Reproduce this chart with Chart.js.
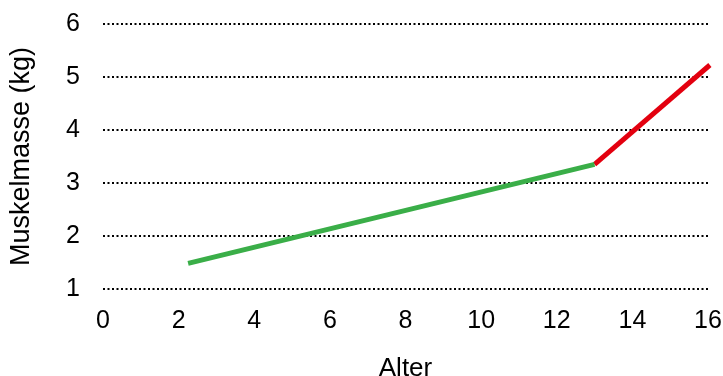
<!DOCTYPE html>
<html>
<head>
<meta charset="utf-8">
<script src="https://cdn.jsdelivr.net/npm/chart.js@4/dist/chart.umd.min.js"></script>
<style>
  html, body { margin: 0; padding: 0; background: #fff; }
  #wrap { width: 723px; height: 376px; }
</style>
</head>
<body>
<div id="wrap"><canvas id="myChart"></canvas></div>
<script>
// values
const ageGreen = [2.25, 13];
const massGreen = [1.48, 3.35];
const ageRed = [13, 16.05];
const massRed = [3.35, 5.23];
const xTicks = [0, 2, 4, 6, 8, 10, 12, 14, 16];
const yTicks = [1, 2, 3, 4, 5, 6];

function toPoints(xs, ys) {
  return xs.map((x, i) => ({ x: x, y: ys[i] }));
}

// drop the extra room chart.js keeps for the tick labels
function noPadding(axis) {
  axis.paddingTop = 0;
  axis.paddingBottom = 0;
  axis.paddingLeft = 0;
  axis.paddingRight = 0;
}

const fontFamily = '"Liberation Sans", Arial, Helvetica, sans-serif';

new Chart("myChart", {
  type: 'line',
  data: {
    datasets: [{
      data: toPoints(ageGreen, massGreen),
      borderColor: '#3aae48',
      borderWidth: 5,
      pointRadius: 0,
      clip: false
    }, {
      data: toPoints(ageRed, massRed),
      borderColor: '#e3000f',
      borderWidth: 5,
      pointRadius: 0,
      clip: false
    }]
  },
  options: {
    responsive: true,
    maintainAspectRatio: false,
    animation: false,
    layout: { padding: { left: 0, right: 15, top: 24.3, bottom: 0 } },
    plugins: {
      legend: { display: false },
      tooltip: { enabled: false }
    },
    scales: {
      x: {
        type: 'linear',
        min: xTicks[0],
        max: xTicks[xTicks.length - 1],
        afterBuildTicks: (axis) => { axis.ticks = xTicks.map(v => ({ value: v })); },
        afterFit: (axis) => { axis.height = 87.3; noPadding(axis); },
        grid: { display: false, drawTicks: false },
        border: { display: false },
        ticks: { color: '#000', padding: 17, font: { family: fontFamily, size: 25 } },
        title: {
          display: true,
          text: 'Alter',
          color: '#000',
          padding: 0,
          font: { family: fontFamily, size: 26, lineHeight: 0.55 }
        }
      },
      y: {
        min: yTicks[0],
        max: yTicks[yTicks.length - 1],
        afterBuildTicks: (axis) => { axis.ticks = yTicks.map(v => ({ value: v })); },
        afterFit: (axis) => { axis.width = 103; noPadding(axis); },
        grid: { color: '#000', lineWidth: 2, drawTicks: false },
        border: { display: false, dash: [2, 2.5] },
        ticks: { color: '#000', padding: 23, font: { family: fontFamily, size: 25 } },
        title: {
          display: true,
          text: 'Muskelmasse (kg)',
          color: '#000',
          padding: { top: 5, bottom: 0 },
          font: { family: fontFamily, size: 27 }
        }
      }
    }
  }
});
</script>
</body>
</html>
